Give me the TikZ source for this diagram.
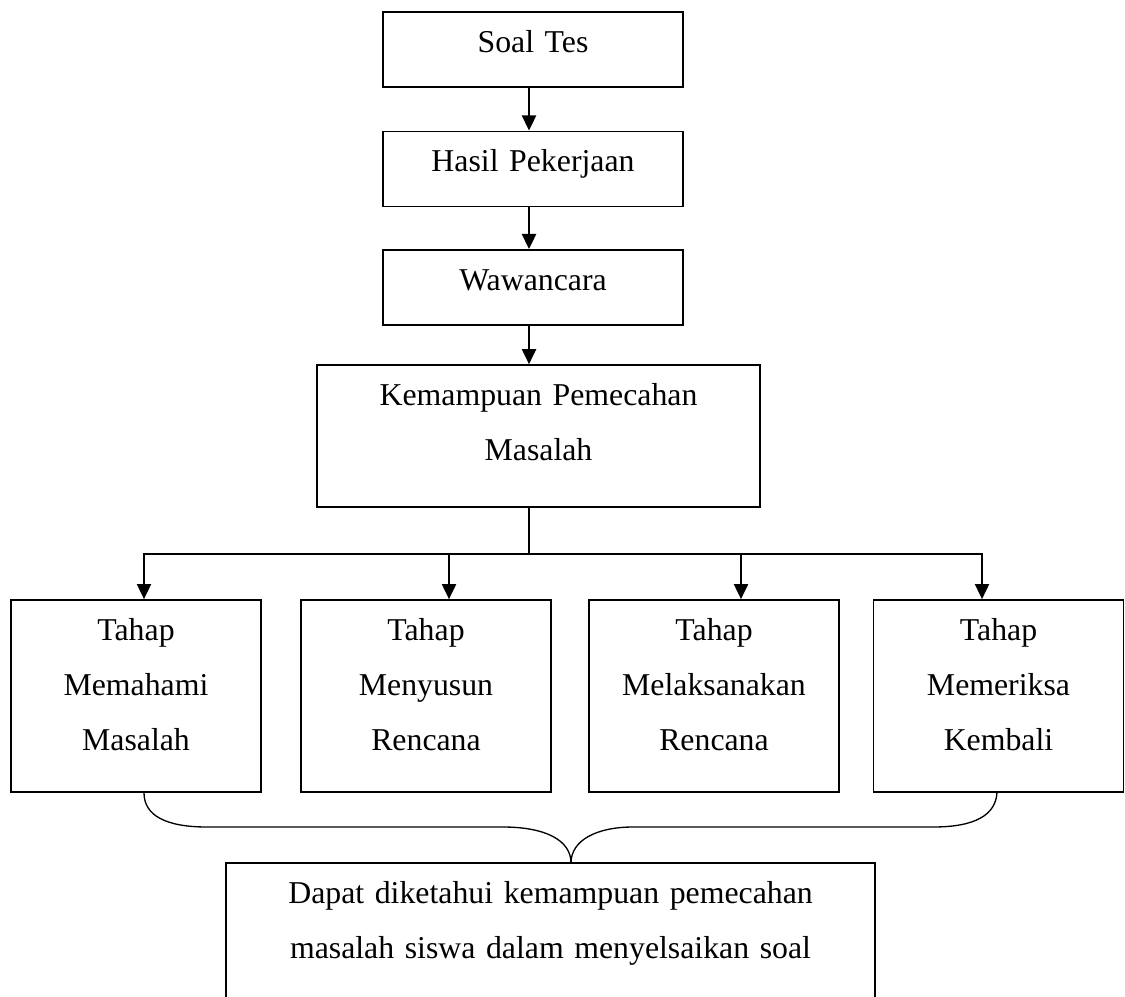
\documentclass[tikz,border=0pt]{standalone}
\usepackage{fontspec}
\setmainfont{Liberation Serif}
\usetikzlibrary{arrows.meta}

\tikzset{
  box/.style={draw, line width=0.6pt, inner sep=0pt, align=center,
    text height=15.3pt, font=\fontsize{12pt}{20.7pt}\selectfont},
  topbox/.style={box, text width=113.2pt, text depth=13.1pt},
  kembox/.style={box, text width=167.2pt, text depth=38.3pt},
  tahapbox/.style={box, text width=94.35pt, text depth=57.2pt},
  hasilbox/.style={box, text width=244.9pt, text depth=41.3pt},
  arr/.style={line width=0.8pt, -{Triangle[length=5.7pt,width=5.3pt]}},
  bus/.style={line width=0.7pt, {Triangle[length=5.7pt,width=5.3pt]}-{Triangle[length=5.7pt,width=5.3pt]}},
  brace/.style={line width=0.5pt},
}

\begin{document}
\begin{tikzpicture}[x=0.3774pt, y=-0.3774pt]
	%%%%% frame %%%%%
	\useasboundingbox (0, 0) rectangle (1125, 996);
	\clip (0, 0) rectangle (1125, 996);
	
	%%%%% boxes %%%%%
	\node[topbox] (soal) at (533, 49.5) {Soal Tes};
	\node[topbox] (hasil) at (533, 169) {Hasil Pekerjaan};
	\node[topbox] (wawan) at (533, 287.5) {Wawancara};
	\node[kembox] (kem) at (538.5, 436) {Kemampuan Pemecahan\\Masalah};
	
	\node[tahapbox] (memahami) at (136, 696) {Tahap\\Memahami\\Masalah};
	\node[tahapbox] (menyusun) at (426, 696) {Tahap\\Menyusun\\Rencana};
	\node[tahapbox] (melaksanakan) at (714, 696) {Tahap\\Melaksanakan\\Rencana};
	\node[tahapbox] (memeriksa) at (998.5, 696) {Tahap\\Memeriksa\\Kembali};
	
	\node[hasilbox] (kesimpulan) at (550.5, 938) {Dapat diketahui kemampuan pemecahan\\masalah siswa dalam menyelsaikan soal};
	
	%%%%% connectors %%%%%
	\coordinate (axis) at (529, 0);
	\coordinate (split) at (529, 554);
	\coordinate (b1) at (144, 554);
	\coordinate (b2) at (449, 554);
	\coordinate (b3) at (741, 554);
	\coordinate (b4) at (982, 554);
	
	\draw[arr] (soal.south -| axis) -- (hasil.north -| axis);
	\draw[arr] (hasil.south -| axis) -- (wawan.north -| axis);
	\draw[arr] (wawan.south -| axis) -- (kem.north -| axis);
	
	\draw[line width=0.7pt] (kem.south -| split) -- (split);
	\draw[bus] (b1 |- memahami.north) -- (b1) -- (b4) -- (b4 |- memeriksa.north);
	\draw[arr] (b2) -- (b2 |- menyusun.north);
	\draw[arr] (b3) -- (b3 |- melaksanakan.north);
	
	%%%%% brace %%%%%
	\coordinate (tip) at (571, 863);
	\coordinate (braceR) at (997, 792);
	\draw[brace] (b1 |- memahami.south) .. controls (144, 815) and (165, 827) .. (207, 827)
		-- (503, 827) .. controls (545, 827) and (571, 840) .. (tip)
		.. controls (571, 840) and (597, 827) .. (633, 827)
		-- (933, 827) .. controls (975, 827) and (996, 815) .. (braceR);
\end{tikzpicture}
\end{document}
